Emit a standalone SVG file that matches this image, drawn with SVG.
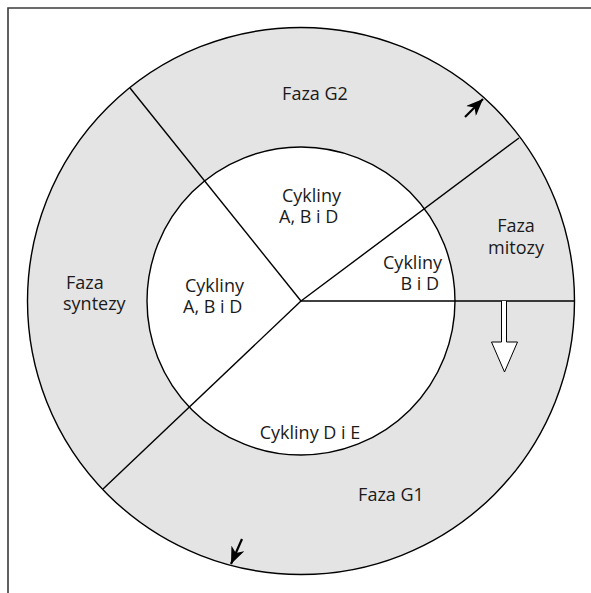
<svg xmlns="http://www.w3.org/2000/svg" width="591" height="593" viewBox="0 0 591 593">
<style>
.frame{stroke:#3a3a3a;stroke-width:1.6;fill:none}
.ln{stroke:#000;stroke-width:1.4;fill:none}
.t{font-family:"Open Sans","Noto Sans","Liberation Sans",sans-serif;font-size:18px;fill:#1a1a1a}
.m{text-anchor:middle}
.e{text-anchor:end}
</style>
<defs>
<marker id="ah" markerUnits="userSpaceOnUse" viewBox="0 0 17 14" markerWidth="17" markerHeight="14" refX="17" refY="7" orient="auto">
<path d="M0,0 L17,7 L0,14 L5,7 z" fill="#000"/>
</marker>
</defs>
<rect width="591" height="593" fill="#fff"/>
<path class="frame" d="M8,593 V8 H591"/>
<g id="ring">
<circle cx="301" cy="301" r="273.5" fill="#e4e4e4" stroke="#000" stroke-width="1.4"/>
<circle cx="301" cy="301" r="154" fill="#fff" stroke="#000" stroke-width="1.4"/>
</g>
<g id="connectors">
<line class="ln" x1="301" y1="301" x2="130" y2="88"/>
<line class="ln" x1="301" y1="301" x2="519" y2="138"/>
<line class="ln" x1="301" y1="301" x2="575" y2="301"/>
<line class="ln" x1="301" y1="301" x2="103" y2="489"/>
<line stroke="#000" stroke-width="2.2" x1="465" y1="117" x2="483" y2="99" marker-end="url(#ah)"/>
<line stroke="#000" stroke-width="2.2" x1="242" y1="539" x2="231" y2="564" marker-end="url(#ah)"/>
<path d="M501.5,301 V342 H491.5 L504.5,372 L517.5,342 H506.5 V301" fill="#fff" stroke="#000" stroke-width="1"/>
</g>
<g id="faza-g2"><text class="t m" x="315" y="100">Faza G2</text></g>
<g id="cykliny-abd-top"><text class="t" x="282" y="202">Cykliny</text><text class="t" x="279" y="223">A, B i D</text></g>
<g id="cykliny-abd-left"><text class="t" x="185" y="292">Cykliny</text><text class="t" x="183" y="313">A, B i D</text></g>
<g id="faza-syntezy"><text class="t" x="66" y="289">Faza</text><text class="t" x="63" y="310">syntezy</text></g>
<g id="faza-mitozy"><text class="t m" x="516" y="232">Faza</text><text class="t m" x="516" y="254">mitozy</text></g>
<g id="cykliny-bd"><text class="t e" x="442" y="269">Cykliny</text><text class="t e" x="439" y="290">B i D</text></g>
<g id="cykliny-de"><text class="t m" x="310" y="439">Cykliny D i E</text></g>
<g id="faza-g1"><text class="t m" x="391" y="501">Faza G1</text></g>
</svg>
